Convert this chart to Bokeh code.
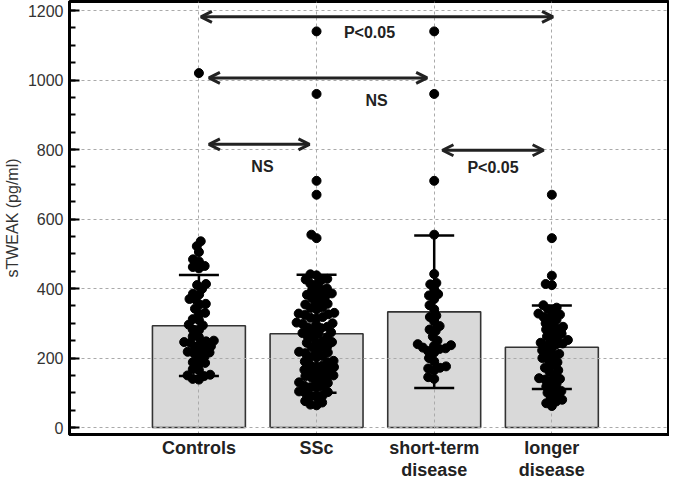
import math
from bokeh.plotting import figure
from bokeh.models import Range1d, FixedTicker, Arrow, OpenHead
from bokeh.core.properties import value
from bokeh.embed import file_html
from bokeh.resources import INLINE

# ---------------- data ----------------
groups = ["Controls", "SSc", "short-term\ndisease", "longer\ndisease"]
group_x = [1, 2, 3, 4]

bar_mean = [293, 270, 333, 231]
bar_upper = [439, 440, 553, 351]
bar_lower = [148, 100, 114, 111]

controls = [1020, 536, 522, 505, 484, 478, 465, 462, 458, 413, 410, 399, 385, 383,
            370, 368, 356, 354, 342, 330, 328, 312, 309, 296, 294, 282, 280, 262,
            260, 250, 248, 246, 244, 242, 234, 232, 230, 220, 218, 216, 214, 205,
            202, 188, 186, 184, 168, 165, 152, 150, 148, 140, 138]
ssc = [1140, 960, 710, 670, 555, 545,
       441, 438, 428, 426, 424,
       414, 412, 400, 398, 396,
       386, 384, 382, 380, 372, 370,
       358, 356, 354, 346, 344, 340,
       330, 328, 326, 324, 318, 316, 314,
       302, 300, 298, 296, 290, 288, 286,
       276, 274, 272, 270, 262, 260, 258,
       248, 246, 244, 242, 234, 232, 230,
       220, 218, 216, 214, 206, 204, 202,
       192, 190, 188, 180, 178, 176, 174,
       166, 164, 162, 160, 158, 150, 148, 146, 144, 142,
       132, 130, 128, 120, 118, 116, 114,
       104, 102, 100, 92, 90, 88,
       76, 72, 66, 64]
short_term = [1140, 960, 710, 555, 442, 416, 412, 398, 384, 380, 370, 352, 340, 322,
              318, 305, 292, 282, 278, 262, 250, 240, 237, 235, 230, 228, 226, 220,
              216, 200, 190, 176, 172, 170, 165, 145, 140]
longer = [670, 545, 437, 413, 410, 352, 345, 340, 330, 328, 325, 318, 315, 310, 300,
          298, 290, 285, 282, 275, 270, 262, 258, 252, 248, 244, 242, 240, 236, 228,
          222, 214, 212, 206, 200, 195, 188, 180, 172, 165, 160, 150, 142, 140, 138,
          135, 125, 118, 112, 105, 100, 95, 85, 80, 75, 70, 62]
group_values = [controls, ssc, short_term, longer]

y_ticks = [0, 200, 400, 600, 800, 1000, 1200]
y_minor = [v for v in range(0, 1250, 50)]

comp_from = [1.017, 1.085, 1.085, 3.07]
comp_to = [4.01, 2.94, 1.94, 3.93]
comp_y = [1182, 1006, 815, 798]
comp_label = ["P<0.05", "NS", "NS", "P<0.05"]
comp_label_x = [2.45, 2.51, 1.54, 3.50]
comp_label_y = [1137, 940, 752, 749]

# ---------------- figure ----------------
X0, X1 = -0.1, 5.0
Y0, Y1 = -20, 1226
W, H = 669, 482

p = figure(width=W, height=H, output_backend="svg", toolbar_location=None,
           x_range=Range1d(X0, X1), y_range=Range1d(Y0, Y1),
           min_border_left=0, min_border_right=0, min_border_top=1, min_border_bottom=0)
p.background_fill_color = "white"
p.border_fill_color = "white"
p.outline_line_color = "black"
p.outline_line_width = 3

# approximate pixel scales for swarm layout
px_x = 597.0 / (X1 - X0)
px_y = 428.0 / (Y1 - Y0)


def swarm(vals, d=6.2):
    pts = []
    order = sorted(range(len(vals)), key=lambda i: vals[i])
    out = [0.0] * len(vals)
    for i in order:
        yp = vals[i] * px_y
        cands = [0.0]
        for (xo, yo) in pts:
            dy = yp - yo
            if abs(dy) < d:
                dx = math.sqrt(d * d - dy * dy)
                cands += [xo + dx, xo - dx]
        cands.sort(key=lambda c: (abs(c), c))
        for c in cands:
            ok = True
            for (xo, yo) in pts:
                if (c - xo) ** 2 + (yp - yo) ** 2 < d * d - 1e-6:
                    ok = False
                    break
            if ok:
                out[i] = c
                pts.append((c, yp))
                break
    return [o / px_x for o in out]


# bars (under grid)
p.vbar(x=group_x, top=bar_mean, bottom=0, width=0.79, fill_color="#d9d9d9",
       line_color="#333333", line_width=1.6, level="underlay")

# error bars
cap = 0.17
p.segment(x0=group_x, y0=bar_lower, x1=group_x, y1=bar_upper, line_color="black", line_width=2.5)
p.segment(x0=[x - cap for x in group_x], y0=bar_upper, x1=[x + cap for x in group_x],
          y1=bar_upper, line_color="black", line_width=2.5)
p.segment(x0=[x - cap for x in group_x], y0=bar_lower, x1=[x + cap for x in group_x],
          y1=bar_lower, line_color="black", line_width=2.5)

# dots
xs, ys = [], []
for gx, vals in zip(group_x, group_values):
    offs = swarm(vals)
    xs += [gx + o for o in offs]
    ys += vals
p.scatter(x=xs, y=ys, size=9, fill_color="black", line_color="black")

# comparison arrows
for x0, x1, yy in zip(comp_from, comp_to, comp_y):
    p.add_layout(Arrow(x_start=x0, y_start=yy, x_end=x1, y_end=yy,
                       line_color="#222222", line_width=3,
                       start=OpenHead(size=11, line_width=3, line_color="#222222"),
                       end=OpenHead(size=11, line_width=3, line_color="#222222")))
p.text(x=comp_label_x, y=comp_label_y, text=comp_label, text_font=value("Liberation Sans"),
       text_font_style="bold", text_font_size="16px", text_color="#222222",
       text_align="center", text_baseline="middle")

# axes
xa = p.xaxis[0]
xa.ticker = FixedTicker(ticks=group_x)
xa.major_label_overrides = {gx: g for gx, g in zip(group_x, groups)}
xa.axis_line_width = 3
xa.major_tick_line_color = None
xa.minor_tick_line_color = None
xa.major_tick_out = 0
xa.major_tick_in = 0
xa.minor_tick_out = 0
xa.minor_tick_in = 0
xa.major_label_text_font = "Liberation Sans"
xa.major_label_text_font_style = "bold"
xa.major_label_text_font_size = "18px"
xa.major_label_text_line_height = 1.1
xa.major_label_text_color = "#222222"
xa.major_label_standoff = 3

ya = p.yaxis[0]
ya.ticker = FixedTicker(ticks=y_ticks, minor_ticks=y_minor)
ya.axis_line_width = 3
ya.major_tick_in = 10
ya.major_tick_out = 0
ya.minor_tick_in = 6
ya.minor_tick_out = 0
ya.major_tick_line_width = 2
ya.minor_tick_line_width = 2
ya.major_label_text_font = "Liberation Sans"
ya.major_label_text_font_size = "16px"
ya.major_label_text_color = "#333333"
ya.major_label_standoff = 6
ya.axis_label = "sTWEAK (pg/ml)"
ya.axis_label_text_font = "Liberation Sans"
ya.axis_label_text_font_style = "normal"
ya.axis_label_text_font_size = "16px"
ya.axis_label_text_color = "#333333"
ya.axis_label_standoff = 4

# grids
p.xgrid.ticker = FixedTicker(ticks=group_x)
p.ygrid.ticker = FixedTicker(ticks=y_ticks)
for g in (p.xgrid, p.ygrid):
    g.grid_line_color = "#aaaaaa"
    g.grid_line_dash = "3 3"
    g.grid_line_width = 1

open("out.html", "w").write(file_html(p, INLINE))
